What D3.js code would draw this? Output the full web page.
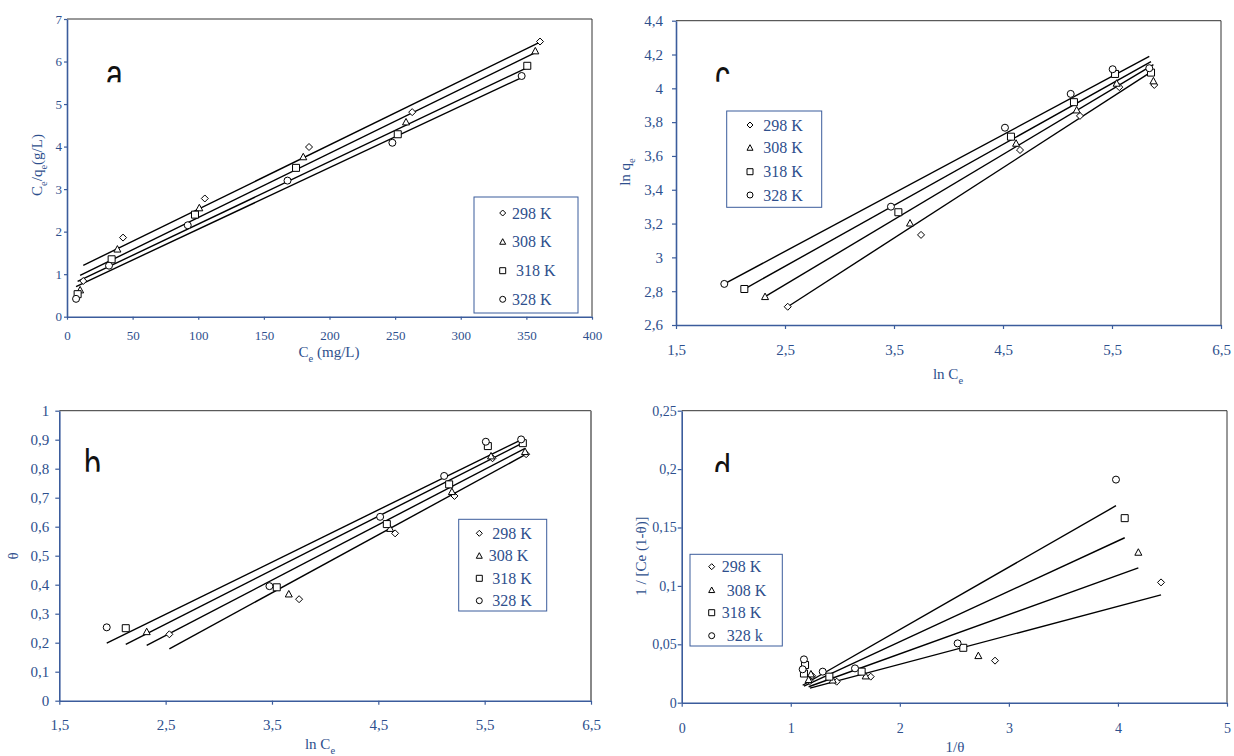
<!DOCTYPE html>
<html>
<head>
<meta charset="utf-8">
<script src="https://cdn.jsdelivr.net/npm/d3@7"></script>
<style>
  body { margin: 0; background: #fff; }
  svg { display: block; }
  text { font-family: "Liberation Serif", "Times New Roman", serif; }
</style>
</head>
<body>
<svg id="chart" width="1234" height="756"></svg>
<script>
// ---------- shared ----------
const seriesNames = ["298 K", "308 K", "318 K", "328 K"];
const seriesShapes = ["diamond", "triangle", "square", "circle"];

// ---------- panel a : Ce/qe vs Ce (Langmuir) ----------
const aX298 = [12.4, 42.7, 105, 184.4, 263, 360.4];
const aY298 = [0.84, 1.86, 2.78, 3.99, 4.81, 6.47];
const aX308 = [10, 38.4, 100.8, 180, 258.3, 356.8];
const aY308 = [0.63, 1.59, 2.56, 3.76, 4.58, 6.25];
const aX318 = [8.1, 34, 97.5, 174.5, 252, 350.7];
const aY318 = [0.53, 1.35, 2.40, 3.50, 4.29, 5.90];
const aX328 = [6.9, 32, 92, 168, 247.9, 346.4];
const aY328 = [0.42, 1.20, 2.15, 3.20, 4.09, 5.66];
const aSlopes = [0.01509, 0.01511, 0.01468, 0.01447];
const aIntercepts = [1.02, 0.82, 0.71, 0.61];
const aXTicks = [0, 50, 100, 150, 200, 250, 300, 350, 400];
const aYTicks = [0, 1, 2, 3, 4, 5, 6, 7];
const aLegend = ["298 K", "308 K", "318 K", "328 K"];

// ---------- panel c : ln qe vs ln Ce (Freundlich) ----------
const cX298 = [2.525, 3.748, 4.656, 5.206, 5.567, 5.888];
const cY298 = [2.708, 3.133, 3.635, 3.837, 4.007, 4.020];
const cX308 = [2.317, 3.647, 4.620, 5.176, 5.543, 5.880];
const cY308 = [2.768, 3.203, 3.675, 3.872, 4.030, 4.044];
const cX318 = [2.127, 3.540, 4.573, 5.151, 5.528, 5.858];
const cY318 = [2.813, 3.267, 3.714, 3.918, 4.085, 4.093];
const cX328 = [1.943, 3.472, 4.518, 5.121, 5.506, 5.842];
const cY328 = [2.843, 3.300, 3.767, 3.967, 4.113, 4.119];
const cSlopes = [0.4166, 0.385, 0.3605, 0.345];
const cIntercepts = [1.656, 1.876, 2.046, 2.173];
const cXTicks = [1.5, 2.5, 3.5, 4.5, 5.5, 6.5];
const cYTicks = [2.6, 2.8, 3, 3.2, 3.4, 3.6, 3.8, 4, 4.2, 4.4];
const cLegend = ["298 K", "308 K", "318 K", "328 K"];

// ---------- panel b : theta vs ln Ce (Temkin) ----------
const bX298 = [2.535, 3.755, 4.658, 5.216, 5.574, 5.890];
const bY298 = [0.229, 0.350, 0.577, 0.706, 0.836, 0.850];
const bX308 = [2.322, 3.658, 4.611, 5.192, 5.560, 5.880];
const bY308 = [0.238, 0.368, 0.594, 0.721, 0.844, 0.859];
const bX318 = [2.125, 3.545, 4.580, 5.166, 5.530, 5.859];
const bY318 = [0.250, 0.391, 0.609, 0.746, 0.878, 0.888];
const bX328 = [1.946, 3.476, 4.517, 5.119, 5.511, 5.843];
const bY328 = [0.253, 0.395, 0.634, 0.775, 0.893, 0.901];
const bSlopes = [0.200, 0.191, 0.186, 0.180];
const bIntercepts = [-0.328, -0.2528, -0.201, -0.152];
const bXTicks = [1.5, 2.5, 3.5, 4.5, 5.5, 6.5];
const bYTicks = [0, 0.1, 0.2, 0.3, 0.4, 0.5, 0.6, 0.7, 0.8, 0.9, 1];
const bLegend = ["298 K", "308 K", "318 K", "328 K"];

// ---------- panel d : 1/[Ce(1-theta)] vs 1/theta (Fowler-Guggenheim) ----------
const dX298 = [4.395, 2.873, 1.733, 1.421, 1.196, 1.176];
const dY298 = [0.103, 0.036, 0.0223, 0.018, 0.023, 0.0185];
const dX308 = [4.187, 2.720, 1.687, 1.385, 1.185, 1.164];
const dY308 = [0.1288, 0.0403, 0.0229, 0.0194, 0.0246, 0.0198];
const dX318 = [4.062, 2.582, 1.650, 1.354, 1.131, 1.121];
const dY318 = [0.158, 0.047, 0.0266, 0.0223, 0.0323, 0.025];
const dX328 = [3.982, 2.530, 1.589, 1.293, 1.121, 1.109];
const dY328 = [0.191, 0.0508, 0.0294, 0.0266, 0.0371, 0.0286];
const dSlopes = [0.0248, 0.03366, 0.04316, 0.0535];
const dIntercepts = [-0.0167, -0.0255, -0.0341, -0.0444];
const dXTicks = [0, 1, 2, 3, 4, 5];
const dYTicks = [0, 0.05, 0.1, 0.15, 0.2, 0.25];
const dLegend = ["298 K", "308 K", "318 K", "328 k"];

// ---------- drawing ----------
const TEXT_BLUE = "#2e4f8d";
const AXIS_BLUE = "#3b5c9c";
const SERIF = '"Liberation Serif", "Times New Roman", serif';
const svg = d3.select("#chart");
const defs = svg.append("defs");

const fmt = v => String(+v.toFixed(3)).replace(".", ",");

function markerPath(shape, s) {
  const h = s / 2;
  if (shape === "diamond") return `M0,${-h}L${h},0L0,${h}L${-h},0Z`;
  if (shape === "triangle") return `M0,${-h}L${h},${h * 0.85}L${-h},${h * 0.85}Z`;
  if (shape === "square") return `M${-h},${-h}H${h}V${h}H${-h}Z`;
  return d3.symbol(d3.symbolCircle, Math.PI * h * h)();
}

function panel(cfg) {
  const g = svg.append("g");
  const x = d3.scaleLinear().domain(cfg.xDomain).range([cfg.left, cfg.right]);
  const y = d3.scaleLinear().domain(cfg.yDomain).range([cfg.bottom, cfg.top]);

  // top and right frame
  g.append("path")
    .attr("d", `M${cfg.left},${cfg.top}H${cfg.right}`)
    .attr("stroke", "#333").attr("stroke-width", 1).attr("fill", "none");
  g.append("path")
    .attr("d", `M${cfg.right},${cfg.top}V${cfg.bottom}`)
    .attr("stroke", cfg.rightColor || "#333").attr("stroke-width", cfg.rightWidth || 1).attr("fill", "none");

  // axes
  const xa = g.append("g").attr("transform", `translate(0,${cfg.bottom})`)
    .call(d3.axisBottom(x).tickValues(cfg.xTicks).tickFormat(fmt)
      .tickSizeInner(cfg.tick).tickSizeOuter(0).tickPadding(cfg.xPad));
  const ya = g.append("g").attr("transform", `translate(${cfg.left},0)`)
    .call(d3.axisLeft(y).tickValues(cfg.yTicks).tickFormat(fmt)
      .tickSizeInner(cfg.tick).tickSizeOuter(0).tickPadding(cfg.yPad));
  [xa, ya].forEach(a => {
    a.attr("font-family", SERIF).attr("font-size", cfg.tickFont);
    a.select(".domain").attr("stroke", AXIS_BLUE).attr("stroke-width", 1.6);
    a.selectAll(".tick line").attr("stroke", AXIS_BLUE).attr("stroke-width", 1.2);
    a.selectAll(".tick text").attr("fill", TEXT_BLUE)
      .attr("font-family", SERIF).attr("font-size", cfg.tickFont);
  });

  // fitted lines over each series' x-range
  cfg.series.forEach((s, i) => {
    const [x0, x1] = d3.extent(s.x);
    g.append("line")
      .attr("x1", x(x0)).attr("y1", y(cfg.intercepts[i] + cfg.slopes[i] * x0))
      .attr("x2", x(x1)).attr("y2", y(cfg.intercepts[i] + cfg.slopes[i] * x1))
      .attr("stroke", "#000").attr("stroke-width", 1.4);
  });

  // data markers
  cfg.series.forEach((s, i) => {
    g.append("g").selectAll("path").data(s.x.map((v, k) => [v, s.y[k]])).join("path")
      .attr("d", markerPath(seriesShapes[i], cfg.markerSize))
      .attr("transform", d => `translate(${x(d[0])},${y(d[1])})`)
      .attr("fill", "#fff").attr("stroke", "#000").attr("stroke-width", 1);
  });

  // panel letter, clipped at its lower part
  const cid = "clip-" + cfg.letter;
  defs.append("clipPath").attr("id", cid).append("rect")
    .attr("x", cfg.letterX - 5).attr("y", cfg.letterClip - 60)
    .attr("width", 40).attr("height", 60);
  g.append("g").attr("clip-path", `url(#${cid})`)
    .append("text")
    .attr("transform", `translate(${cfg.letterX},${cfg.letterBase}) scale(0.72,1)`)
    .style("font-family", '"Liberation Sans", Arial, sans-serif')
    .style("font-size", "42px").attr("fill", "#111")
    .text(cfg.letter);

  // legend
  const L = cfg.legend;
  g.append("rect").attr("x", L.x).attr("y", L.y).attr("width", L.w).attr("height", L.h)
    .attr("fill", "#fff").attr("stroke", AXIS_BLUE).attr("stroke-width", 1);
  cfg.legendLabels.forEach((lab, i) => {
    g.append("path").attr("d", markerPath(seriesShapes[i], L.marker))
      .attr("transform", `translate(${L.mx},${L.rows[i]})`)
      .attr("fill", "#fff").attr("stroke", "#000").attr("stroke-width", 1);
    g.append("text").attr("x", L.tx[i]).attr("y", L.rows[i]).attr("dy", "0.35em")
      .attr("fill", TEXT_BLUE).style("font-size", L.font + "px").text(lab);
  });

  return { x, y, g };
}

function addSubText(sel, parts, size) {
  // parts: [text, isSubscript]
  let shift = 0;
  parts.forEach(([t, sub]) => {
    const want = sub ? 0.3 * size : 0;
    sel.append("tspan")
      .attr("dy", want - shift)
      .style("font-size", (sub ? size * 0.7 : size) + "px")
      .text(t);
    shift = want;
  });
}

// panel a
panel({
  left: 67, right: 592, top: 19, bottom: 316.7,
  xDomain: [0, 400], yDomain: [0, 7],
  xTicks: aXTicks, yTicks: aYTicks, tick: 3, xPad: 11, yPad: 2, tickFont: 13,
  series: [{ x: aX298, y: aY298 }, { x: aX308, y: aY308 }, { x: aX318, y: aY318 }, { x: aX328, y: aY328 }],
  slopes: aSlopes, intercepts: aIntercepts, markerSize: 7,
  letter: "a", letterX: 106, letterBase: 89, letterClip: 82.3,
  legendLabels: aLegend,
  legend: { x: 474, y: 197, w: 104, h: 116, mx: 502.7, tx: [512, 512, 516, 512],
            rows: [213, 241.7, 270.7, 299.3], font: 16, marker: 6 }
});
{
  const t = svg.append("text").attr("transform", "translate(42,165) rotate(-90)")
    .attr("text-anchor", "middle").attr("fill", TEXT_BLUE);
  addSubText(t, [["C", false], ["e", true], ["/q", false], ["e", true], ["(g/L)", false]], 15);
  const xt = svg.append("text").attr("x", 329).attr("y", 357)
    .attr("text-anchor", "middle").attr("fill", TEXT_BLUE);
  addSubText(xt, [["C", false], ["e", true], [" (mg/L)", false]], 15);
}

// panel c
panel({
  left: 676, right: 1221, top: 20.7, bottom: 325,
  xDomain: [1.5, 6.5], yDomain: [2.6, 4.4],
  xTicks: cXTicks, yTicks: cYTicks, tick: 4, xPad: 15, yPad: 9, tickFont: 15,
  series: [{ x: cX298, y: cY298 }, { x: cX308, y: cY308 }, { x: cX318, y: cY318 }, { x: cX328, y: cY328 }],
  slopes: cSlopes, intercepts: cIntercepts, markerSize: 7,
  letter: "c", letterX: 715, letterBase: 90, letterClip: 81.7,
  legendLabels: cLegend,
  legend: { x: 726.7, y: 111, w: 95, h: 96.3, mx: 750, tx: [763.3, 763.3, 763.3, 763.3],
            rows: [125, 147.7, 171.7, 195], font: 16, marker: 6 }
});
{
  const t = svg.append("text").attr("transform", "translate(630,172) rotate(-90)")
    .attr("text-anchor", "middle").attr("fill", TEXT_BLUE);
  addSubText(t, [["ln q", false], ["e", true]], 15);
  const xt = svg.append("text").attr("x", 948).attr("y", 379)
    .attr("text-anchor", "middle").attr("fill", TEXT_BLUE);
  addSubText(xt, [["ln C", false], ["e", true]], 15);
}

// panel b
panel({
  left: 59.3, right: 591, top: 410.7, bottom: 700.7,
  xDomain: [1.5, 6.5], yDomain: [0, 1],
  xTicks: bXTicks, yTicks: bYTicks, tick: 4, xPad: 15, yPad: 6, tickFont: 15,
  series: [{ x: bX298, y: bY298 }, { x: bX308, y: bY308 }, { x: bX318, y: bY318 }, { x: bX328, y: bY328 }],
  slopes: bSlopes, intercepts: bIntercepts, markerSize: 7,
  letter: "b", letterX: 84, letterBase: 479, letterClip: 471.7,
  rightColor: "#888", rightWidth: 2,
  legendLabels: bLegend,
  legend: { x: 458.7, y: 519.3, w: 88, h: 91.7, mx: 479.3, tx: [492.3, 488.7, 492.3, 492.3],
            rows: [533.3, 555.7, 578.3, 600.7], font: 16, marker: 6 }
});
{
  svg.append("text").attr("transform", "translate(18,556) rotate(-90)")
    .attr("text-anchor", "middle").attr("fill", TEXT_BLUE).style("font-size", "15px").text("θ");
  const xt = svg.append("text").attr("x", 320).attr("y", 749)
    .attr("text-anchor", "middle").attr("fill", TEXT_BLUE);
  addSubText(xt, [["ln C", false], ["e", true]], 15);
}

// panel d
panel({
  left: 681.7, right: 1227, top: 410.7, bottom: 702.7,
  xDomain: [0, 5], yDomain: [0, 0.25],
  xTicks: dXTicks, yTicks: dYTicks, tick: 4, xPad: 16, yPad: 1, tickFont: 14,
  series: [{ x: dX298, y: dY298 }, { x: dX308, y: dY308 }, { x: dX318, y: dY318 }, { x: dX328, y: dY328 }],
  slopes: dSlopes, intercepts: dIntercepts, markerSize: 7,
  letter: "d", letterX: 714, letterBase: 484, letterClip: 472,
  legendLabels: dLegend,
  legend: { x: 690, y: 554.3, w: 92.3, h: 91.7, mx: 711.7, tx: [721.7, 726.7, 721.7, 726.7],
            rows: [566.7, 590, 612.7, 635.7], font: 16, marker: 6 }
});
{
  const t = svg.append("text").attr("transform", "translate(646,556) rotate(-90)")
    .attr("text-anchor", "middle").attr("fill", TEXT_BLUE);
  addSubText(t, [["1 / [Ce (1-θ)]", false]], 15);
  svg.append("text").attr("x", 955).attr("y", 752)
    .attr("text-anchor", "middle").attr("fill", TEXT_BLUE).style("font-size", "15px").text("1/θ");
}
</script>
</body>
</html>
